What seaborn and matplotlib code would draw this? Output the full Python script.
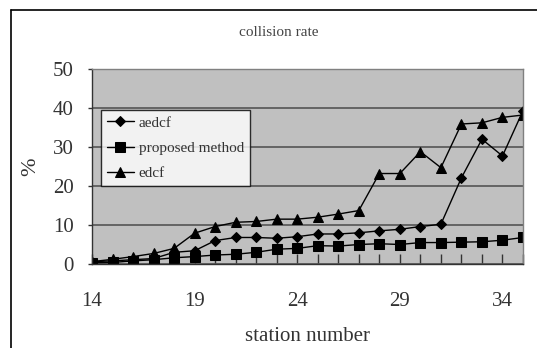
import matplotlib
matplotlib.use("Agg")
import matplotlib.pyplot as plt
from matplotlib.lines import Line2D
from matplotlib.ticker import FixedLocator, MultipleLocator
import seaborn as sns
import pandas as pd

stations = list(range(14, 36))
aedcf = [0.6, 0.8, 1.1, 1.4, 3.0, 3.4, 6.0, 6.8, 6.8, 6.6, 7.0,
         7.7, 7.7, 8.0, 8.5, 8.9, 9.6, 10.2, 22.1, 32.0, 27.7, 39.3]
proposed = [0.3, 0.4, 0.8, 1.1, 1.6, 1.9, 2.3, 2.5, 3.0, 3.8, 4.0,
            4.7, 4.6, 5.0, 5.2, 5.0, 5.5, 5.5, 5.6, 5.7, 6.1, 6.8]
edcf = [0.6, 1.2, 1.9, 2.7, 4.0, 7.9, 9.6, 10.7, 10.9, 11.5, 11.5,
        12.0, 12.8, 13.7, 23.2, 23.2, 28.8, 24.7, 35.9, 36.2, 37.6, 38.2]
series_names = ["aedcf", "proposed method", "edcf"]
x_tick_labels = [14, 19, 24, 29, 34]
y_ticks = [0, 10, 20, 30, 40, 50]

rows = []
for name, vals in zip(series_names, [aedcf, proposed, edcf]):
    for s, v in zip(stations, vals):
        rows.append({"station": s, "value": v, "series": name})
df = pd.DataFrame(rows)

sns.set_style("white")
plt.rcParams["font.family"] = ["Liberation Serif", "DejaVu Serif"]
text_color = "#333333"

fig = plt.figure(figsize=(5.37, 3.48), dpi=100)
ax = fig.add_axes([92 / 537, 1 - 264 / 348, (523 - 92) / 537, (264 - 69) / 348])
ax.set_facecolor("#c0c0c0")

markers = {"aedcf": "D", "proposed method": "s", "edcf": "^"}
sizes = {"aedcf": 5.5, "proposed method": 6.5, "edcf": 7}
for name in series_names:
    sns.lineplot(data=df[df["series"] == name], x="station", y="value",
                 ax=ax, color="black", linewidth=1.0, marker=markers[name],
                 markersize=sizes[name], markeredgecolor="black",
                 markerfacecolor="black", label=name, errorbar=None)

ax.set_xlim(14, 35)
ax.set_ylim(0, 50)
ax.yaxis.set_major_locator(FixedLocator(y_ticks))
ax.xaxis.set_major_locator(FixedLocator(x_tick_labels))
ax.xaxis.set_minor_locator(MultipleLocator(1))
ax.grid(axis="y", color="#555555", linewidth=1.2)
ax.set_axisbelow(True)

ax.tick_params(axis="x", which="both", direction="in", length=7, width=1,
               color="#333333", labelsize=15, pad=20, labelcolor=text_color,
               bottom=True)
ax.tick_params(axis="y", direction="out", length=3, width=1, color="#333333",
               labelsize=15, pad=10, labelcolor=text_color, left=True)

for side in ["top", "right"]:
    ax.spines[side].set_color("#808080")
    ax.spines[side].set_linewidth(1.0)
for side in ["left", "bottom"]:
    ax.spines[side].set_color("#333333")
    ax.spines[side].set_linewidth(1.0)

ax.set_xlabel("station number", fontsize=15, color=text_color, labelpad=12)
ax.set_ylabel("%", fontsize=16, color=text_color, labelpad=9)

leg = ax.legend(loc="upper left", bbox_to_anchor=(0.02, 0.79),
                borderaxespad=0, frameon=True, fancybox=False,
                fontsize=11, handlelength=1.8, handletextpad=0.3,
                labelspacing=0.75, borderpad=0.4)
leg.get_frame().set_edgecolor("black")
leg.get_frame().set_facecolor("white")
leg.get_frame().set_linewidth(1.0)
for t in leg.get_texts():
    t.set_color(text_color)

fig.text(279 / 537, 1 - 32 / 348, "collision rate", ha="center", va="center",
         fontsize=11, color="#444444")

# outer chart frame (left and top edges)
fig.add_artist(Line2D([10.5 / 537, 10.5 / 537], [0, 1 - 10 / 348],
                      transform=fig.transFigure, color="black", linewidth=1.2))
fig.add_artist(Line2D([10.5 / 537, 1], [1 - 10 / 348, 1 - 10 / 348],
                      transform=fig.transFigure, color="black", linewidth=1.2))

fig.savefig("out.png", dpi=100, facecolor="white")
